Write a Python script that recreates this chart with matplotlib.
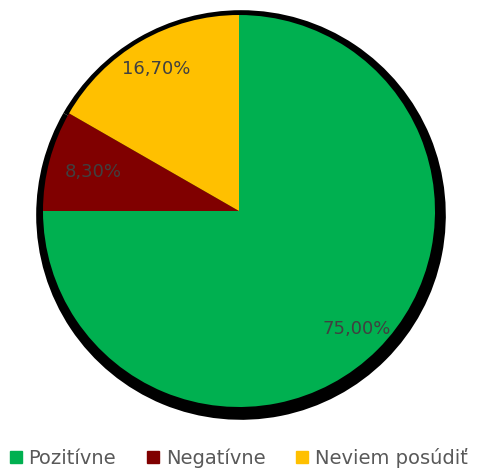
import matplotlib
matplotlib.use("Agg")
import matplotlib.pyplot as plt
from matplotlib.lines import Line2D
import numpy as np

categories = ["Pozitívne", "Negatívne", "Neviem posúdiť"]
values = [75.00, 8.30, 16.70]
colors = ["#00B050", "#800000", "#FFC000"]
label_dist = [0.85, 0.77, 0.84]

W, H = 478, 470
fig = plt.figure(figsize=(W / 100, H / 100), dpi=100)
cx, cy, r = 239, 211, 196
ax = fig.add_axes([(cx - r) / W, (H - cy - r) / H, 2 * r / W, 2 * r / H])

# shadow
sh_off = (2 / r, -4 / r)
sw, _ = ax.pie(values, startangle=90, counterclock=False, radius=1.045,
               center=sh_off, colors=["black"] * 3,
               wedgeprops=dict(linewidth=0))
for w in sw:
    w.set_clip_on(False)

wedges, _ = ax.pie(values, startangle=90, counterclock=False, radius=1.0,
                   colors=colors, wedgeprops=dict(linewidth=0))
for w in wedges:
    w.set_clip_on(False)

ax.set_aspect("auto")
ax.set_xlim(-1, 1)
ax.set_ylim(-1, 1)
ax.axis("off")

for w, v, d in zip(wedges, values, label_dist):
    ang = np.deg2rad((w.theta1 + w.theta2) / 2)
    ax.text(d * np.cos(ang), d * np.sin(ang), f"{v:.2f}%".replace(".", ","),
            ha="center", va="center", fontsize=13, color="#404040",
            family="DejaVu Sans")

handles = [Line2D([], [], marker="s", linestyle="none", markersize=8,
                  markerfacecolor=c, markeredgecolor=c) for c in colors]
fig.legend(handles, categories, loc="center", bbox_to_anchor=(0.5, 1 - 458 / H),
           ncol=3, frameon=False, fontsize=14, handlelength=0.6,
           handletextpad=0.35, columnspacing=1.6, labelcolor="#595959")

fig.savefig("out.png", dpi=100)
